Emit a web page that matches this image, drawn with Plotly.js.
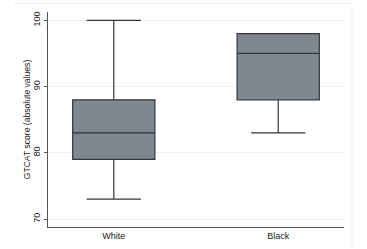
<!DOCTYPE html>
<html>
<head>
<meta charset="utf-8">
<script src="https://cdn.plot.ly/plotly-3.0.1.min.js"></script>
<style>html,body{margin:0;padding:0;background:#fff;}#chart{width:367px;height:249px;}</style>
</head>
<body>
<div id="chart"></div>
<script>
var categories = ['White', 'Black'];
var lowerFence = [73, 83];
var q1Values = [79, 88];
var medianValues = [83, 95];
var q3Values = [88, 98];
var upperFence = [100, 98];
var yTicks = [70, 80, 90, 100];

var trace = {
  type: 'box',
  x: categories,
  q1: q1Values,
  median: medianValues,
  q3: q3Values,
  lowerfence: lowerFence,
  upperfence: upperFence,
  fillcolor: '#7f878f',
  line: {color: '#34363b', width: 1.2},
  whiskerwidth: 0.66,
  width: 0.5,
  boxpoints: false,
  hoverinfo: 'skip',
  showlegend: false
};

var layout = {
  width: 367,
  height: 249,
  margin: {l: 48, r: 23, t: 12, b: 22},
  paper_bgcolor: '#ffffff',
  plot_bgcolor: '#ffffff',
  font: {family: 'Liberation Sans, Arial, sans-serif', size: 9, color: '#1a1a1a'},
  xaxis: {
    type: 'category',
    range: [-0.4, 1.4],
    showline: true,
    linecolor: '#555',
    linewidth: 1,
    ticks: '',
    showgrid: false,
    zeroline: false,
    tickfont: {size: 9, color: '#1a1a1a'},
    fixedrange: true
  },
  yaxis: {
    range: [68.8, 101.25],
    tickvals: yTicks,
    ticktext: yTicks.map(String),
    tickangle: -90,
    showline: true,
    linecolor: '#555',
    linewidth: 1,
    ticks: 'outside',
    ticklen: 3,
    tickcolor: '#555',
    showgrid: true,
    gridcolor: '#eaf1f4',
    gridwidth: 1,
    zeroline: false,
    tickfont: {size: 9, color: '#1a1a1a'},
    title: {text: 'GTCAT score (absolute values)', font: {size: 8.6, color: '#1a1a1a'}, standoff: 0},
    fixedrange: true
  },
  shapes: [
    {type: 'line', xref: 'paper', yref: 'paper', x0: -0.12, x1: 1.027, y0: 1.04, y1: 1.04, line: {color: '#eef0f3', width: 1}},
    {type: 'line', xref: 'paper', yref: 'paper', x0: 1.027, x1: 1.027, y0: 1.04, y1: -0.1, line: {color: '#eef0f3', width: 1}}
  ]
};

Plotly.newPlot('chart', [trace], layout, {displayModeBar: false, staticPlot: true});
</script>
</body>
</html>
